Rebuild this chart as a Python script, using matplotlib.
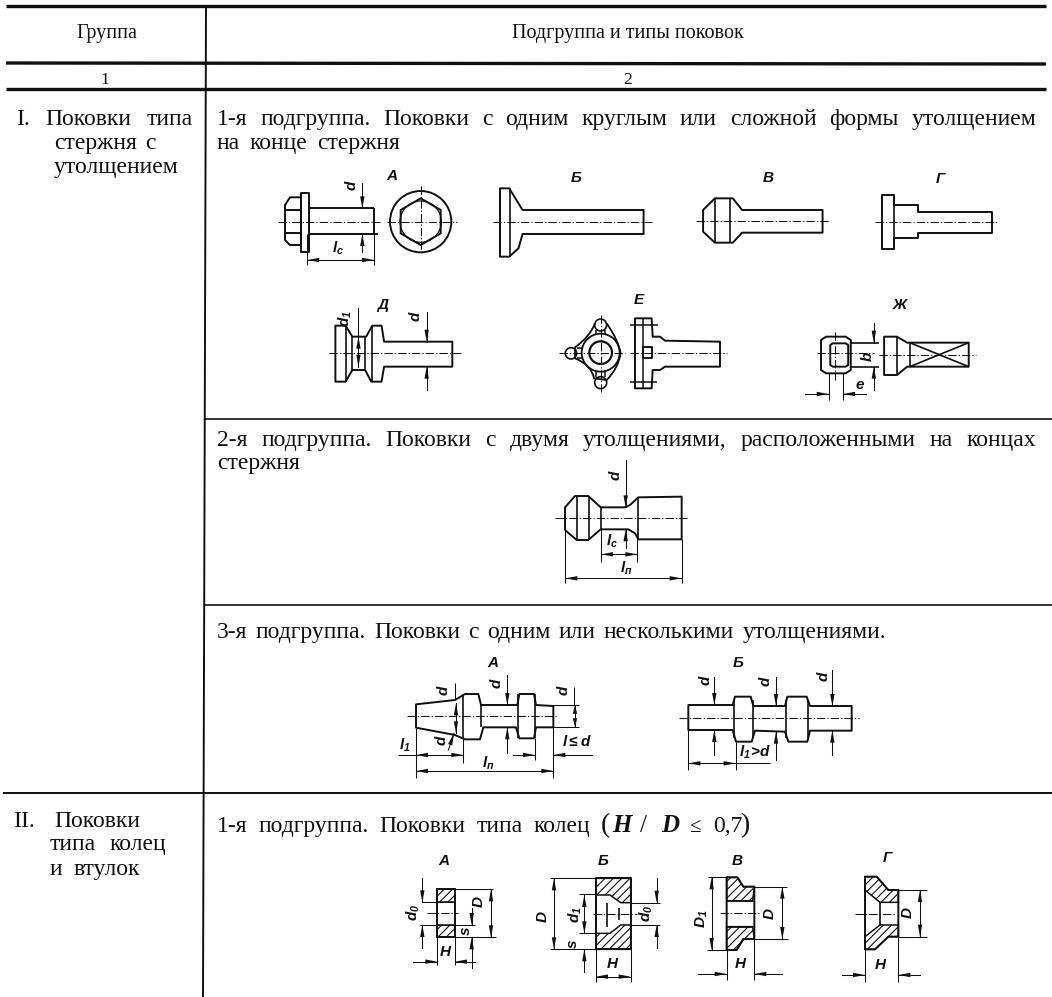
import matplotlib
matplotlib.use('Agg')
import matplotlib.pyplot as plt
from matplotlib.patches import Polygon, Ellipse, PathPatch
from matplotlib.path import Path

INK = '#101010'

# table rules: (x0, y0, x1, y1, width)
table_rules = [
    (6, 6, 1046, 6, 2.4), (6, 63, 1046, 64, 2.4), (6, 89, 1046, 89, 2.4),
    (206, 6, 203, 997, 1.4), (205, 419, 1052, 419, 1.2), (204, 605, 1052, 605, 1.2),
    (3, 793, 1052, 793, 1.4),
]

# text lines: (string, x0, x1, baseline)
body_lines = [
    ('I. Поковки типа', 16, 193, 125), ('стержня с', 54, 156, 149), ('утолщением', 54, 179, 173),
    ('II. Поковки', 13, 140, 827), ('типа колец', 50, 166, 850), ('и втулок', 50, 140, 875),
    ('1-я подгруппа. Поковки с одним круглым или сложной формы утолщением', 217, 1036, 125),
    ('на конце стержня', 217, 400, 149),
    ('2-я подгруппа. Поковки с двумя утолщениями, расположенными на концах', 217, 1036, 446),
    ('стержня', 217, 298, 469),
    ('3-я подгруппа. Поковки с одним или несколькими утолщениями.', 217, 886, 638),
    ('1-я подгруппа. Поковки типа колец', 217, 590, 832),
]
header_lines = [('Группа', 107, 38, 14.5), ('Подгруппа и типы поковок', 628, 38, 14.5), ('1', 105, 84, 12.5), ('2', 628, 84, 12.5)]

# view scales of the drawing groups: (x origin, y origin, x scale, y scale)
TOP = (220, 160, 1.95, 3.0)
MID = (380, 470, 3.0, 3.0)
LOW = (380, 840, 3.0, 3.0)
RGT = (840, 840, 3.0, 3.0)
BOLT = (270, 165, 3.0, 3.0)
LUG = (550, 290, 3.0, 3.0)

# closed outlines, each in the coordinates of its view
outlines_top = [
    [(546, 85), (564, 85), (590, 150), (826, 150), (826, 222), (590, 222), (582, 265), (564, 290), (546, 290)],
    [(965, 115), (1000, 115), (1018, 150), (1175, 150), (1175, 218), (1018, 218), (1000, 248), (965, 248), (942, 215), (942, 150)],
    [(1290, 105), (1315, 105), (1315, 135), (1362, 135), (1362, 155), (1505, 155), (1505, 218), (1362, 218), (1362, 235), (1315, 235), (1315, 267), (1290, 267)],
    [(225, 497), (245, 497), (258, 530), (285, 530), (297, 497), (315, 497), (320, 545), (453, 545), (453, 620), (320, 620), (315, 665), (295, 665), (283, 630), (258, 630), (245, 665), (225, 665)],
    [(1172, 540), (1182, 530), (1220, 530), (1230, 540), (1230, 630), (1220, 640), (1182, 640), (1172, 630)],
    [(1190, 555), (1195, 550), (1220, 550), (1225, 555), (1225, 615), (1220, 620), (1195, 620), (1190, 615)],
    [(1295, 530), (1320, 530), (1340, 548), (1460, 548), (1460, 620), (1340, 620), (1320, 645), (1295, 645)],
]
outlines_bolt = [
    [(93, 85), (118, 85), (118, 260), (93, 260)],
    [(93, 97), (60, 97), (45, 120), (45, 225), (60, 240), (93, 240)],
    [(452, 100), (512, 135), (512, 205), (452, 240), (392, 205), (392, 135)],
]
outlines_lug = [
    [(255, 85), (305, 85), (308, 140), (330, 140), (345, 152), (510, 155), (510, 230), (345, 230), (330, 240), (308, 240), (305, 295), (255, 295)],
    [(280, 170), (305, 170), (305, 205), (280, 205)],
]
outlines_mid = [
    [(555, 112), (585, 78), (625, 78), (662, 112), (735, 112), (750, 105), (775, 82), (905, 80), (905, 208), (775, 208), (765, 190), (745, 178), (662, 178), (625, 210), (590, 210), (555, 180)],
    [(108, 703), (225, 690), (255, 672), (295, 672), (303, 705), (412, 705), (418, 672), (462, 672), (468, 705), (520, 708), (520, 772), (468, 772), (462, 805), (418, 805), (408, 772), (310, 772), (300, 808), (255, 808), (225, 795), (108, 773)],
    [(925, 705), (1058, 705), (1065, 680), (1112, 680), (1120, 708), (1215, 708), (1222, 680), (1280, 680), (1290, 708), (1415, 708), (1415, 782), (1290, 782), (1282, 815), (1225, 815), (1215, 785), (1125, 782), (1115, 815), (1068, 815), (1058, 780), (925, 780)],
]
outlines_low = [
    [(172, 148), (225, 148), (225, 292), (172, 292)],
    [(648, 115), (752, 115), (752, 328), (648, 328)],
    [(1040, 112), (1072, 112), (1090, 140), (1123, 140), (1123, 297), (1090, 297), (1070, 330), (1040, 330)],
]
outlines_rgt = [[(75, 110), (110, 110), (145, 150), (175, 150), (175, 290), (145, 290), (105, 328), (75, 328)]]

# round parts: centre x, centre y, radius, line width
circles_bolt = [(452, 170, 92, 1.4), (452, 170, 62, 0.9)]
circles_lug = [(152, 188, 57, 1.3), (152, 188, 34, 1.6), (152, 105, 18, 1.2), (152, 278, 18, 1.2), (63, 190, 17, 1.2)]

# hatched cross sections
hatch_low = [
    [(172, 148), (225, 148), (225, 187), (172, 187)],
    [(172, 255), (225, 255), (225, 292), (172, 292)],
    [(648, 115), (752, 115), (752, 188), (722, 188), (690, 165), (648, 165)],
    [(648, 328), (752, 328), (752, 255), (722, 255), (690, 280), (648, 280)],
    [(1040, 112), (1072, 112), (1090, 140), (1123, 140), (1118, 183), (1040, 183)],
    [(1040, 260), (1118, 260), (1123, 297), (1090, 297), (1070, 330), (1040, 330)],
]
hatch_rgt = [
    [(75, 110), (110, 110), (145, 150), (175, 150), (175, 187), (120, 187), (75, 150)],
    [(75, 328), (105, 328), (145, 290), (175, 290), (175, 255), (120, 255), (75, 290)],
]

# (x0, y0, x1, y1) heavy inner edges
edges_top = [
    (565, 85, 565, 290), (965, 115, 965, 248), (995, 115, 995, 248), (1315, 135, 1315, 235),
    (245, 497, 245, 665), (258, 530, 258, 630), (283, 530, 283, 630), (297, 497, 297, 665),
    (1320, 530, 1320, 645), (1345, 548, 1345, 620),
    (1345, 548, 1460, 620), (1345, 620, 1460, 548), (1230, 548, 1285, 548), (1230, 620, 1285, 620),
]
edges_bolt = [
    (118, 130, 312, 130), (118, 207, 325, 207), (312, 130, 312, 207), (45, 135, 93, 135), (45, 205, 93, 205),
]
edges_lug = [
    (280, 85, 280, 295), (138, 120, 138, 135), (165, 120, 165, 135), (138, 243, 138, 260), (165, 243, 165, 260),
    (80, 175, 100, 175), (80, 205, 100, 205), (240, 105, 325, 105), (240, 275, 320, 275),
]
edges_mid = [
    (590, 78, 590, 210), (628, 78, 628, 210), (775, 82, 775, 208), (662, 112, 662, 178),
    (250, 672, 250, 808), (303, 705, 303, 772), (415, 672, 415, 805), (465, 672, 465, 805),
    (1062, 690, 1062, 805), (1118, 690, 1118, 805), (1218, 690, 1218, 805), (1283, 690, 1283, 805),
]
edges_low = [(682, 190, 682, 260), (716, 205, 716, 240), (648, 165, 648, 280), (1040, 183, 1118, 183), (1040, 260, 1118, 260)]
edges_rgt = [(120, 187, 120, 255)]

# centre lines
center_top = [
    (533, 186, 842, 186), (928, 184, 1190, 184),
    (1277, 186, 1518, 186), (212, 580, 470, 580), (1165, 580, 1275, 580),
    (1285, 584, 1475, 584), (1200, 515, 1200, 660),
]
center_bolt = [(25, 170, 330, 170), (352, 170, 560, 170), (452, 62, 452, 268)]
center_lug = [(28, 190, 225, 190), (152, 75, 152, 305), (240, 190, 530, 190)]
center_mid = [(525, 143, 925, 143), (80, 737, 535, 737), (898, 743, 1438, 743)]
center_low = [(140, 220, 235, 220), (640, 222, 770, 222), (1020, 218, 1140, 218)]
center_rgt = [(45, 222, 165, 222)]

# thin extension lines
thin_top = [(1187, 640, 1187, 720), (1215, 640, 1215, 720)]
thin_bolt = [(112, 207, 112, 300), (312, 207, 312, 300)]
thin_mid = [
    (556, 180, 556, 340), (905, 208, 905, 340), (663, 178, 663, 275), (772, 190, 772, 275),
    (225, 640, 225, 690), (108, 773, 108, 925), (250, 808, 250, 880), (520, 772, 520, 925), (465, 805, 465, 870),
    (520, 705, 597, 705), (520, 772, 597, 772), (583, 650, 583, 705), (55, 855, 108, 855),
    (925, 780, 925, 900), (1067, 815, 1067, 900), (1067, 880, 1170, 880),
]
thin_low = [
    (127, 187, 225, 187), (120, 255, 285, 255), (225, 148, 340, 148), (225, 292, 348, 292),
    (172, 292, 172, 375), (225, 292, 225, 375),
    (510, 115, 648, 115), (510, 328, 648, 328), (598, 163, 648, 163), (598, 280, 648, 280),
    (752, 188, 840, 188), (752, 255, 840, 255), (648, 328, 648, 425), (752, 328, 752, 425),
    (985, 112, 1040, 112), (980, 330, 1040, 330), (1123, 140, 1222, 140), (1123, 297, 1225, 297),
    (1040, 330, 1040, 420), (1123, 297, 1123, 420),
]
thin_rgt = [(175, 150, 260, 150), (175, 290, 260, 290), (75, 328, 75, 425), (175, 290, 175, 425)]

# dimension arrows: tail x, tail y, tip x, tip y
arrows_top = [
    (270, 445, 270, 620), (270, 580, 270, 530), (403, 455, 403, 545), (403, 690, 403, 620),
    (1275, 490, 1275, 548), (1275, 690, 1275, 620), (1140, 702, 1187, 702), (1260, 702, 1215, 702),
]
arrows_bolt = [(277, 55, 277, 130), (277, 262, 277, 207), (212, 285, 112, 285), (212, 285, 312, 285)]
arrows_mid = [
    (737, -30, 737, 112), (737, 235, 737, 178), (718, 253, 663, 253), (718, 253, 772, 253),
    (730, 325, 556, 325), (730, 325, 905, 325),
    (228, 745, 228, 700), (228, 745, 228, 790), (205, 840, 222, 790),
    (382, 615, 382, 705), (382, 850, 382, 772), (585, 738, 585, 705), (585, 738, 585, 772),
    (180, 855, 108, 855), (180, 855, 250, 855), (314, 903, 108, 903), (314, 903, 520, 903),
    (400, 855, 465, 855), (635, 855, 520, 855),
    (1003, 620, 1003, 705), (1003, 855, 1003, 780), (1188, 620, 1188, 708), (1188, 870, 1188, 785),
    (1357, 600, 1357, 708), (1357, 855, 1357, 782), (996, 880, 925, 880), (996, 880, 1067, 880),
]
arrows_low = [
    (127, 115, 127, 187), (127, 325, 127, 255), (333, 220, 333, 148), (333, 220, 333, 292),
    (275, 205, 275, 255), (275, 385, 275, 292), (100, 365, 172, 365), (285, 365, 225, 365),
    (522, 222, 522, 115), (522, 222, 522, 328), (613, 222, 613, 165), (613, 222, 613, 280),
    (613, 395, 613, 328), (830, 115, 830, 188), (830, 325, 830, 255), (700, 410, 648, 410), (700, 410, 752, 410),
    (995, 221, 995, 112), (995, 221, 995, 330), (1207, 218, 1207, 140), (1207, 218, 1207, 297),
    (955, 402, 1040, 402), (1205, 402, 1123, 402),
]
arrows_rgt = [(240, 220, 240, 150), (240, 220, 240, 290), (5, 405, 75, 405), (240, 405, 175, 405)]

# italic labels: text, x, y, rotation
labels_top = [
    ('Б', 695, 55, 0), ('В', 1070, 55, 0), ('Г', 1405, 58, 0),
    ('Д', 318, 435, 0), ('Ж', 1325, 435, 0),
    ('$d_1$', 245, 475, 90), ('$d$', 382, 470, 90),
    ('$b$', 1262, 590, 90), ('$e$', 1248, 675, 0),
]
labels_bolt = [('А', 365, 32, 0), ('$d$', 243, 62, 90), ('$l_c$', 205, 250, 0)]
labels_lug = [('Е', 265, 30, 0)]
labels_mid = [
    ('$d$', 705, 15, 90), ('$l_c$', 695, 215, 0), ('$l_п$', 740, 295, 0),
    ('А', 338, 578, 0), ('Б', 1075, 578, 0),
    ('$d$', 192, 660, 90), ('$d$', 183, 810, 90), ('$d$', 350, 640, 90), ('$d$', 550, 660, 90),
    ('$l_1$', 75, 825, 0), ('$l_п$', 325, 880, 0), ('$l\\leq d$', 590, 815, 0),
    ('$d$', 975, 630, 90), ('$d$', 1155, 635, 90), ('$d$', 1330, 618, 90), ('$l_1\\!>\\!d$', 1125, 848, 0),
]
labels_low = [
    ('А', 190, 62, 0), ('Б', 668, 62, 0), ('В', 1072, 62, 0),
    ('$d_0$', 100, 218, 90), ('$D$', 298, 185, 90), ('$s$', 258, 272, 90), ('$H$', 198, 335, 0),
    ('$D$', 490, 230, 90), ('$d_1$', 585, 225, 90), ('$d_0$', 800, 220, 90), ('$s$', 580, 312, 90), ('$H$', 697, 372, 0),
    ('$D_1$', 965, 235, 90), ('$D$', 1170, 222, 90), ('$H$', 1082, 372, 0),
]
labels_rgt = [('Г', 143, 55, 0), ('$D$', 205, 218, 90), ('$H$', 122, 375, 0)]

plt.rcParams['font.family'] = ['Liberation Serif', 'DejaVu Serif']
plt.rcParams['mathtext.fontset'] = 'custom'
plt.rcParams['mathtext.it'] = 'Liberation Sans:italic:bold'
plt.rcParams['mathtext.rm'] = 'Liberation Sans:italic:bold'
plt.rcParams['hatch.linewidth'] = 0.8

fig = plt.figure(figsize=(10.52, 9.97), dpi=100)
ax = fig.add_axes([0, 0, 1, 1])
ax.set_xlim(0, 1052)
ax.set_ylim(997, 0)
ax.axis('off')
renderer = fig.canvas.get_renderer()


def to_px(view, x, y):
    return view[0] + x / view[2], view[1] + y / view[3]


def draw_segments(view, segs, lw, ls='-'):
    for x0, y0, x1, y1 in segs:
        a = to_px(view, x0, y0)
        b = to_px(view, x1, y1)
        ax.plot([a[0], b[0]], [a[1], b[1]], color=INK, lw=lw, ls=ls, solid_capstyle='butt')


def draw_outlines(view, shapes, lw=1.4):
    for pts in shapes:
        ax.add_patch(Polygon([to_px(view, *p) for p in pts], closed=True, fill=False, ec=INK, lw=lw, joinstyle='round'))


def draw_circles(view, items):
    for cx, cy, r, lw in items:
        ax.add_patch(Ellipse(to_px(view, cx, cy), 2 * r / view[2], 2 * r / view[3], fill=False, ec=INK, lw=lw))


def draw_hatch(view, shapes):
    for pts in shapes:
        ax.add_patch(Polygon([to_px(view, *p) for p in pts], closed=True, fc='white', ec=INK, lw=1.1, hatch='////'))


def draw_arrows(view, items):
    for x0, y0, x1, y1 in items:
        a = to_px(view, x0, y0)
        b = to_px(view, x1, y1)
        ax.plot([a[0], b[0]], [a[1], b[1]], color=INK, lw=0.75)
        dx, dy = b[0] - a[0], b[1] - a[1]
        n = (dx ** 2 + dy ** 2) ** 0.5
        ux, uy = dx / n, dy / n
        head = min(12, n * 0.8)
        ax.add_patch(Polygon([b, (b[0] - head * ux - 2.2 * uy, b[1] - head * uy + 2.2 * ux),
                              (b[0] - head * ux + 2.2 * uy, b[1] - head * uy - 2.2 * ux)],
                             closed=True, fc=INK, ec='none'))


def draw_labels(view, items, size=11):
    for s, x, y, rot in items:
        px, py = to_px(view, x, y)
        ax.text(px, py, s, fontsize=size, family=['Liberation Sans'], style='italic', weight='bold', rotation=rot,
                ha='center', va='center', color=INK)


def fit_line(s, x0, x1, base, size=17):
    # words spread over the measured line, the book text is justified
    words = s.split()
    widths = []
    for w in words:
        t = ax.text(0, 0, w, fontsize=size)
        widths.append(t.get_window_extent(renderer).width)
        t.remove()
    gap = (x1 - x0 - sum(widths)) / max(len(words) - 1, 1)
    x = x0
    for w, wd in zip(words, widths):
        ax.text(x, base, w, fontsize=size, ha='left', va='baseline', color=INK)
        x += wd + gap


for x0, y0, x1, y1, w in table_rules:
    ax.plot([x0, x1], [y0, y1], color=INK, lw=w, solid_capstyle='butt')

for s, x0, x1, base in body_lines:
    fit_line(s, x0, x1, base)
for s, x, base, size in header_lines:
    ax.text(x, base, s, fontsize=size, ha='center', va='baseline', color=INK)

# the formula at the end of the last subgroup heading
ax.text(605, 832, '(', fontsize=20, ha='center', va='baseline', color=INK)
ax.text(622, 832, 'H', fontsize=18, weight='bold', style='italic', ha='center', va='baseline', color=INK)
ax.text(644, 832, '/', fontsize=18, ha='center', va='baseline', color=INK)
ax.text(670, 832, 'D', fontsize=18, weight='bold', style='italic', ha='center', va='baseline', color=INK)
ax.text(695, 832, '≤', fontsize=15, ha='center', va='baseline', color=INK)
ax.text(713, 832, '0,7', fontsize=17, ha='left', va='baseline', color=INK)
ax.text(745, 832, ')', fontsize=20, ha='center', va='baseline', color=INK)

draw_outlines(TOP, outlines_top)
draw_outlines(BOLT, outlines_bolt)
draw_outlines(LUG, outlines_lug)
draw_outlines(MID, outlines_mid)
draw_hatch(LOW, hatch_low)
draw_hatch(RGT, hatch_rgt)
draw_outlines(LOW, outlines_low)
draw_outlines(RGT, outlines_rgt)
draw_circles(BOLT, circles_bolt)
draw_circles(LUG, circles_lug)

# curved outline of the three-lobed flange in view Е
lug_curve = [(135, 100), (120, 140), (75, 172), (75, 205), (125, 225), (132, 265),
             (170, 270), (205, 235), (212, 190), (205, 150), (170, 100)]
lug_codes = [Path.MOVETO, Path.CURVE3, Path.CURVE3, Path.LINETO, Path.CURVE3, Path.CURVE3,
             Path.LINETO, Path.CURVE3, Path.CURVE3, Path.CURVE3, Path.CURVE3]
ax.add_patch(PathPatch(Path([to_px(LUG, *p) for p in lug_curve], lug_codes), fill=False, ec=INK, lw=1.3))

draw_segments(TOP, edges_top, 1.2)
draw_segments(BOLT, edges_bolt, 1.4)
draw_segments(LUG, edges_lug, 1.1)
draw_segments(MID, edges_mid, 1.2)
draw_segments(LOW, edges_low, 1.2)
draw_segments(RGT, edges_rgt, 1.2)
dash = (0, (8, 2, 1.2, 2))
for view, segs in [(TOP, center_top), (BOLT, center_bolt), (LUG, center_lug), (MID, center_mid),
                   (LOW, center_low), (RGT, center_rgt)]:
    draw_segments(view, segs, 0.75, dash)
for view, segs in [(TOP, thin_top), (BOLT, thin_bolt), (MID, thin_mid), (LOW, thin_low), (RGT, thin_rgt)]:
    draw_segments(view, segs, 0.75)
for view, items in [(TOP, arrows_top), (BOLT, arrows_bolt), (MID, arrows_mid), (LOW, arrows_low), (RGT, arrows_rgt)]:
    draw_arrows(view, items)
for view, items in [(TOP, labels_top), (BOLT, labels_bolt), (LUG, labels_lug), (MID, labels_mid),
                    (LOW, labels_low), (RGT, labels_rgt)]:
    draw_labels(view, items)

fig.savefig('out.png', dpi=100)
